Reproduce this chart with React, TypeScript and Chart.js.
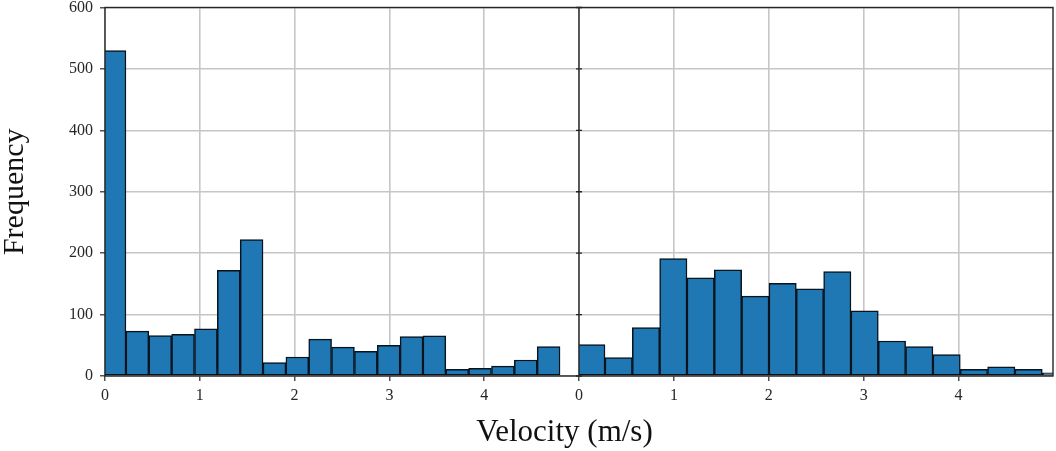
import React, { useEffect, useRef } from "react";
import { Chart, registerables } from "chart.js";

Chart.register(...registerables);

const leftBinCenters = [0.1005, 0.3415, 0.5825, 0.8235, 1.0645, 1.3055, 1.5465, 1.7875, 2.0285, 2.2695, 2.5105, 2.7515, 2.9925, 3.2335, 3.4745, 3.7155, 3.9565, 4.1975, 4.4385, 4.6795];
const leftCounts = [530, 73, 66, 68, 77, 172, 222, 22, 31, 60, 47, 40, 50, 64, 65.5, 11, 12.5, 16, 26, 48];
const rightBinCenters = [0.13, 0.418, 0.706, 0.994, 1.282, 1.57, 1.858, 2.146, 2.434, 2.722, 3.01, 3.298, 3.586, 3.874, 4.162, 4.45, 4.738, 5.026];
const rightCounts = [51, 30, 79, 191, 160, 173, 130, 151, 142, 170, 106, 57, 48, 35, 11, 15, 11, 5];
const xTickValues = [0, 1, 2, 3, 4];
const yTickStep = 100;
const xTitle = "Velocity (m/s)";
const yTitle = "Frequency";

const SERIF = '"Liberation Serif", "Times New Roman", serif';
const INK = "#262626";
const GRID = "#c6c6c6";

const frame = {
  id: "frame",
  afterDatasetsDraw(chart: any) {
    const { ctx, chartArea: a, scales } = chart;
    const mid = scales.x2.left;
    ctx.save();
    ctx.strokeStyle = INK;
    ctx.lineWidth = 1.4;
    ctx.strokeRect(a.left, a.top, a.right - a.left, a.bottom - a.top);
    ctx.beginPath();
    ctx.moveTo(mid, a.top);
    ctx.lineTo(mid, a.bottom);
    for (const t of scales.y.ticks) {
      const y = scales.y.getPixelForValue(t.value);
      ctx.moveTo(mid - 3, y);
      ctx.lineTo(mid + 3, y);
    }
    ctx.stroke();
    ctx.fillStyle = "#111";
    ctx.font = `31px ${SERIF}`;
    ctx.textAlign = "center";
    ctx.textBaseline = "alphabetic";
    ctx.fillText(xTitle, 564.5, 441);
    ctx.restore();
  },
};

const xAxis = (max: number) => ({
  type: "linear",
  position: "bottom",
  stack: "velocity",
  stackWeight: 1,
  min: 0,
  max,
  offset: false,
  afterBuildTicks: (s: any) => {
    s.ticks = xTickValues.map((value) => ({ value }));
  },
  afterFit: (s: any) => {
    s.height = 75;
  },
  grid: { offset: false, color: GRID, lineWidth: 1.6, tickColor: INK, tickLength: 5, tickWidth: 1.2 },
  border: { display: false },
  ticks: {
    autoSkip: false,
    maxRotation: 0,
    padding: 5,
    color: INK,
    font: { family: SERIF, size: 16 },
  },
});

export default function App() {
  const ref = useRef<HTMLCanvasElement | null>(null);

  useEffect(() => {
    if (!ref.current) return;
    const chart = new Chart(ref.current, {
      type: "bar",
      data: {
        datasets: [
          {
            xAxisID: "x1",
            yAxisID: "y",
            data: leftBinCenters.map((x, i) => ({ x, y: leftCounts[i] })),
          },
          {
            xAxisID: "x2",
            yAxisID: "y",
            data: rightBinCenters.map((x, i) => ({ x, y: rightCounts[i] })),
          },
        ].map((d) => ({
          ...d,
          grouped: false,
          backgroundColor: "#1f77b4",
          borderColor: "#07131d",
          borderWidth: 1.5,
          borderSkipped: false,
          barPercentage: 1,
          categoryPercentage: 1,
        })),
      },
      options: {
        responsive: false,
        animation: false,
        layout: { padding: { top: 0, right: 3, bottom: 0, left: 0 } },
        plugins: { legend: { display: false }, tooltip: { enabled: false } },
        scales: {
          x1: xAxis(5),
          x2: xAxis(4.995),
          y: {
            position: "left",
            min: 0,
            max: 600,
            afterFit: (s: any) => {
              s.width = 105;
              s.paddingTop = 7.5;
              s.paddingBottom = 0;
            },
            grid: { color: GRID, lineWidth: 1.6, tickColor: INK, tickLength: 5, tickWidth: 1.2 },
            border: { display: false },
            ticks: {
              stepSize: yTickStep,
              padding: 7,
              color: INK,
              font: { family: SERIF, size: 16 },
            },
            title: {
              display: true,
              text: yTitle,
              color: "#111",
              font: { family: SERIF, size: 30, lineHeight: 1 },
              padding: { top: 0, bottom: 0 },
            },
          },
        },
      } as any,
      plugins: [frame],
    } as any);
    return () => chart.destroy();
  }, []);

  return (
    <div style={{ position: "absolute", left: 0, top: 0, width: 1056, height: 451, background: "#fff" }}>
      <canvas ref={ref} width={1056} height={451} style={{ display: "block" }} />
    </div>
  );
}
